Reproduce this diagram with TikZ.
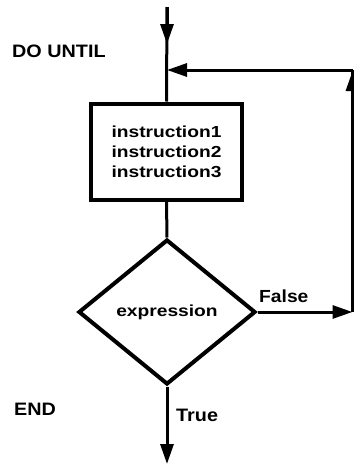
\documentclass[tikz,border=0pt]{standalone}
\usepackage{fontspec}
\setmainfont{Liberation Sans}[FakeStretch=1.2]
\newfontfamily\lblfont{Liberation Sans}[FakeStretch=1.1]
\usetikzlibrary{shapes.geometric,arrows.meta}
\tikzset{
  conn/.style={line width=3pt},
  arr/.style={conn,-{Triangle[length=20pt,width=13pt]}},
  lbl/.style={font=\lblfont\bfseries\fontsize{18}{20}\selectfont,inner sep=0pt,anchor=base west},
  boxst/.style={draw,line width=4pt,minimum width=151pt,minimum height=96pt,inner sep=0pt,align=center,font=\bfseries\fontsize{16}{20}\selectfont},
  diast/.style={draw,diamond,line width=4pt,minimum width=177pt,minimum height=145pt,inner sep=0pt,font=\bfseries\fontsize{16}{20}\selectfont}
}
\begin{document}
\begin{tikzpicture}[x=1pt,y=-1pt]
\useasboundingbox (0,0) rectangle (354,464);
\node[boxst] (box) at (166.5,151.5) {instruction1\\instruction2\\instruction3};
\node[diast] (dia) at (167,312) {expression};
\coordinate (start) at (167,7);
\coordinate (tipA) at (167,44);
\coordinate (j) at (167,70);
\coordinate (rc) at (352.5,70);
\coordinate (rb) at (352.5,312);
\coordinate (bend) at (167,464);
\draw[conn] (start) -- (box.north);
\draw[arr] (start) -- (tipA);
\draw[conn] (box.south) -- (dia.north);
\draw[arr] (dia.east) -- (rb);
\draw[conn] (rb) -- (rc);
\draw[arr] (rb) -- ([yshift=-1pt]rc);
\draw[arr] (rc) -- (j);
\draw[arr] (dia.south) -- (bend);
\node[lbl] (du) at (12,57) {DO UNTIL};
\node[lbl] (en) at (14,415) {END};
\node[lbl] (tr) at (176,421) {True};
\node[lbl,font=\lblfont\bfseries\fontsize{17.5}{20}\selectfont] (fa) at (259,302) {False};
\end{tikzpicture}
\end{document}
